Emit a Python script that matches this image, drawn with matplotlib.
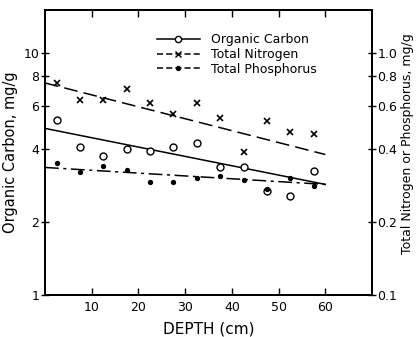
import numpy as np
import matplotlib
matplotlib.use('Agg')
import matplotlib.pyplot as plt
import matplotlib.lines as mlines
from matplotlib.ticker import FixedLocator, NullLocator, FixedFormatter

# depth midpoints (cm)
depth = [2.5, 7.5, 12.5, 17.5, 22.5, 27.5, 32.5, 37.5, 42.5, 47.5, 52.5, 57.5]
carbon = [5.25, 4.10, 3.73, 3.99, 3.91, 4.10, 4.22, 3.36, 3.36, 2.68, 2.56, 3.24]
nitrogen = [0.75, 0.64, 0.64, 0.71, 0.62, 0.56, 0.62, 0.535, 0.39, 0.52, 0.47, 0.46]
phosphorus = [0.349, 0.321, 0.340, 0.327, 0.292, 0.292, 0.303, 0.309, 0.297, 0.273, 0.303, 0.281]

# regression lines (end points)
fit_depth = [0, 60]
carbon_fit = [4.87, 2.86]
nitrogen_fit = [0.75, 0.38]
phosphorus_fit = [0.336, 0.286]

left_ticks = [1, 2, 4, 6, 8, 10]
right_ticks = [0.1, 0.2, 0.4, 0.6, 0.8, 1.0]
right_labels = ['0.1', '0.2', '0.4', '0.6', '0.8', '1.0']

plt.rcParams['font.family'] = 'DejaVu Sans'

fig = plt.figure(figsize=(4.17, 3.37), dpi=100)
ax = fig.add_axes([45/417, 42/337, 327/417, 285/337])
ax2 = ax.twinx()

ax.set_yscale('log')
ax2.set_yscale('log')
ax.set_xlim(0, 70)
ax.set_ylim(1, 15)
ax2.set_ylim(0.1, 1.5)

ax.plot(fit_depth, carbon_fit, color='black', lw=1.1, ls='-')
ax.plot(depth, carbon, 'o', mfc='white', mec='black', ms=5, mew=1)
ax2.plot(fit_depth, nitrogen_fit, color='black', lw=1.1, ls=(0, (9, 4)))
ax2.plot(depth, nitrogen, 'x', color='black', ms=4, mew=1.2)
ax2.plot(fit_depth, phosphorus_fit, color='black', lw=1.1, ls=(0, (9, 3, 2, 3)))
ax2.plot(depth, phosphorus, 'o', color='black', ms=2.8)

# legend proxies
h1 = mlines.Line2D([], [], color='black', lw=1.1, marker='o', mfc='white', ms=4.5)
h2 = mlines.Line2D([], [], color='black', lw=1.1, ls=(0, (4, 2)), marker='x', ms=4)
h3 = mlines.Line2D([], [], color='black', lw=1.1, ls=(0, (4, 2)), marker='o', ms=2.8)
ax.legend([h1, h2, h3], ['Organic Carbon', 'Total Nitrogen', 'Total Phosphorus'],
          loc='upper left', bbox_to_anchor=(157/417, 1 - 33/337),
          bbox_transform=fig.transFigure, frameon=False, fontsize=9,
          handlelength=3.4, handletextpad=0.9, borderpad=0, borderaxespad=0,
          labelspacing=0.15)

ax.xaxis.set_major_locator(FixedLocator([10, 20, 30, 40, 50, 60]))
ax.yaxis.set_major_locator(FixedLocator(left_ticks))
ax.yaxis.set_major_formatter(FixedFormatter([str(t) for t in left_ticks]))
ax.yaxis.set_minor_locator(NullLocator())
ax2.yaxis.set_major_locator(FixedLocator(right_ticks))
ax2.yaxis.set_major_formatter(FixedFormatter(right_labels))
ax2.yaxis.set_minor_locator(NullLocator())

ax.tick_params(axis='x', direction='in', top=True, length=5, width=1, labelsize=9, pad=4)
ax.tick_params(axis='y', direction='inout', length=6, width=1, labelsize=9, pad=1)
ax2.tick_params(axis='y', direction='inout', length=6, width=1, labelsize=9, pad=1)

for a in (ax, ax2):
    for s in a.spines.values():
        s.set_linewidth(1.4)

ax.set_xlabel('DEPTH (cm)', fontsize=11, labelpad=6)
ax.set_ylabel('Organic Carbon, mg/g', fontsize=10.5, labelpad=4)
ax2.set_ylabel('Total Nitrogen or Phosphorus, mg/g', fontsize=9, labelpad=5)
ax2.yaxis.set_label_coords(1.09, 0.53)

fig.savefig('out.png', dpi=100)
